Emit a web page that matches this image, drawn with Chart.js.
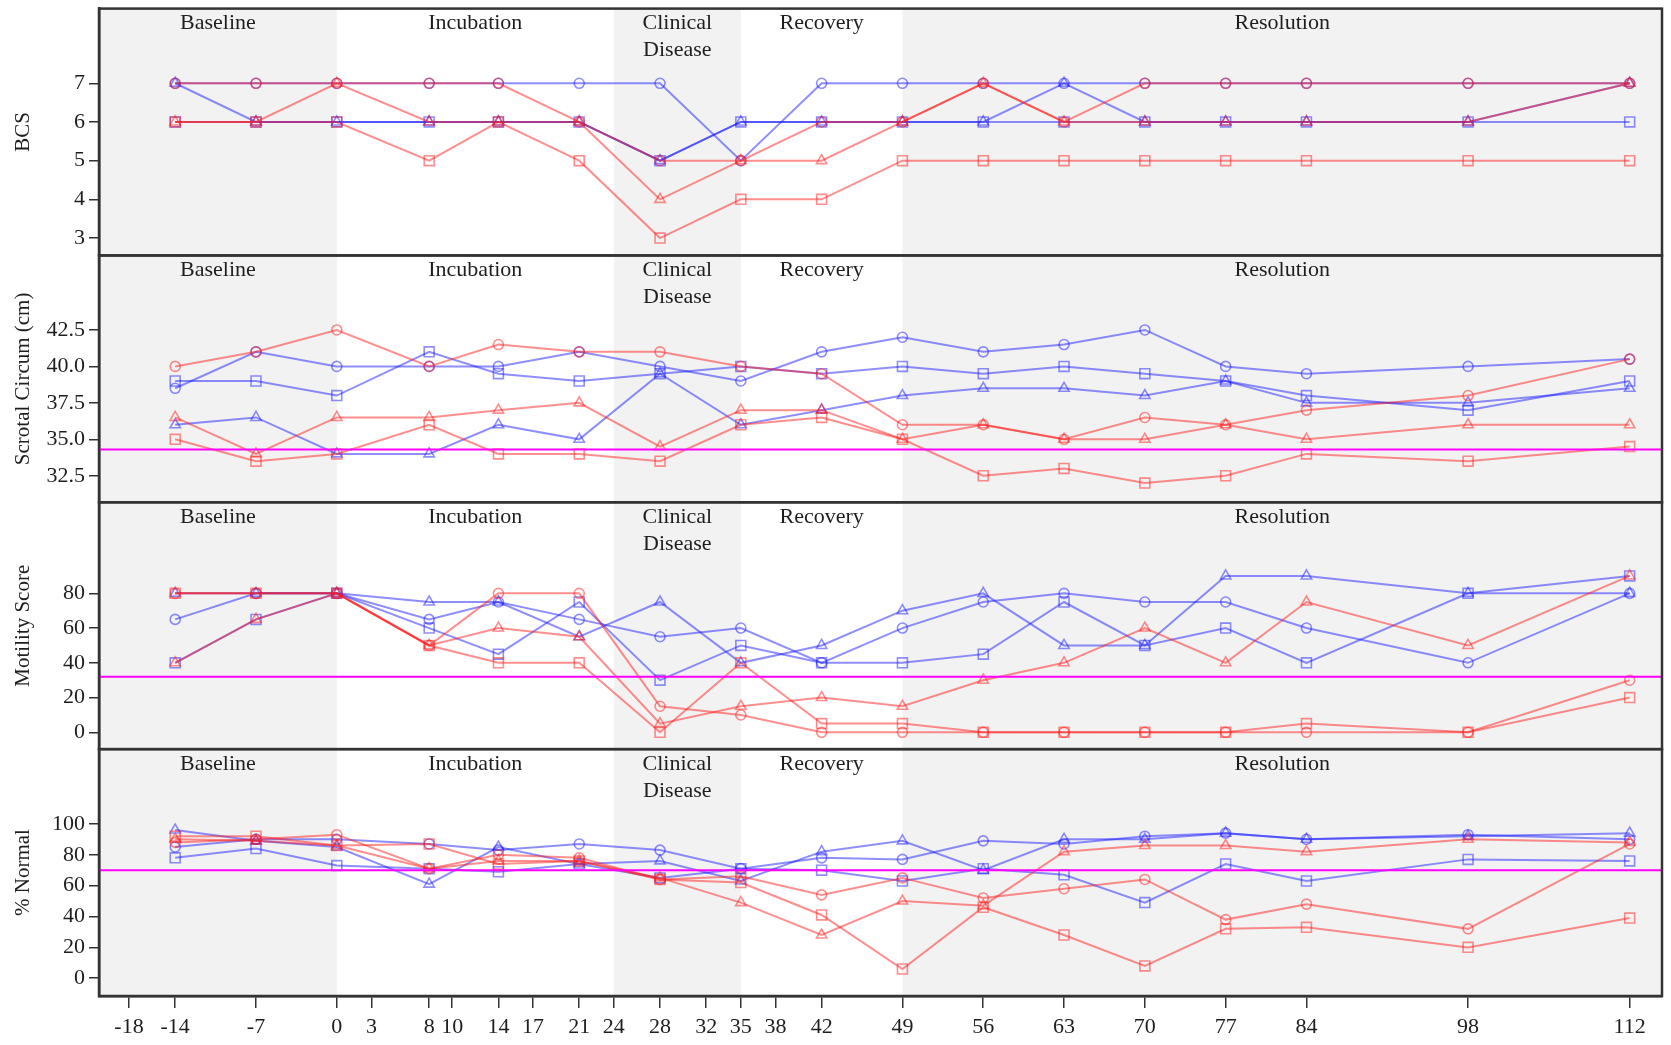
<!DOCTYPE html>
<html>
<head>
<meta charset="utf-8">
<script src="https://cdn.jsdelivr.net/npm/chart.js@4.4.1/dist/chart.umd.min.js"></script>
<style>
html, body { margin: 0; padding: 0; background: #fff; }
#wrap { width: 1671px; height: 1045px; position: relative; }
</style>
</head>
<body>
<div id="wrap"><canvas id="myChart"></canvas></div>
<script>
// sampling days (x)
const days = [-14, -7, 0, 8, 14, 21, 28, 35, 42, 49, 56, 63, 70, 77, 84, 98, 112];
const xTicks = [-18, -14, -7, 0, 3, 8, 10, 14, 17, 21, 24, 28, 32, 35, 38, 42, 49, 56, 63, 70, 77, 84, 98, 112];
const X_MIN = -20.6;
const X_MAX = 114.8;

// study phases
const phaseNames = ['Baseline', 'Incubation', 'Clinical\nDisease', 'Recovery', 'Resolution'];
const phaseStart = [X_MIN, 0, 24, 35, 49];
const phaseEnd = [0, 24, 35, 49, X_MAX];
const phaseShaded = [true, false, true, false, true];

// BCS
const bcsTicks = [3, 4, 5, 6, 7];
const bcsRedCircle = [7, 7, 7, 7, 7, 6, 5, 5, 6, 6, 7, 6, 7, 7, 7, 7, 7];
const bcsRedSquare = [6, 6, 6, 5, 6, 5, 3, 4, 4, 5, 5, 5, 5, 5, 5, 5, 5];
const bcsRedTriangle = [6, 6, 7, 6, 6, 6, 4, 5, 5, 6, 7, 6, 6, 6, 6, 6, 7];
const bcsBlueCircle = [7, 7, 7, 7, 7, 7, 7, 5, 7, 7, 7, 7, 7, 7, 7, 7, 7];
const bcsBlueSquare = [6, 6, 6, 6, 6, 6, 5, 6, 6, 6, 6, 6, 6, 6, 6, 6, 6];
const bcsBlueTriangle = [7, 6, 6, 6, 6, 6, 5, 6, 6, 6, 6, 7, 6, 6, 6, 6, 7];

// Scrotal circumference
const scTicks = [32.5, 35, 37.5, 40, 42.5];
const scThreshold = 34.3;
const scRedCircle = [40, 41, 42.5, 40, 41.5, 41, 41, 40, 39.5, 36, 36, 35, 36.5, 36, 37, 38, 40.5];
const scRedSquare = [35, 33.5, 34, 36, 34, 34, 33.5, 36, 36.5, 35, 32.5, 33, 32, 32.5, 34, 33.5, 34.5];
const scRedTriangle = [36.5, 34, 36.5, 36.5, 37, 37.5, 34.5, 37, 37, 35, 36, 35, 35, 36, 35, 36, 36];
const scBlueCircle = [38.5, 41, 40, 40, 40, 41, 40, 39, 41, 42, 41, 41.5, 42.5, 40, 39.5, 40, 40.5];
const scBlueSquare = [39, 39, 38, 41, 39.5, 39, 39.5, 40, 39.5, 40, 39.5, 40, 39.5, 39, 38, 37, 39];
const scBlueTriangle = [36, 36.5, 34, 34, 36, 35, 39.5, 36, 37, 38, 38.5, 38.5, 38, 39, 37.5, 37.5, 38.5];

// Motility score
const moTicks = [0, 20, 40, 60, 80];
const moThreshold = 32;
const moRedCircle = [80, 80, 80, 50, 80, 80, 15, 10, 0, 0, 0, 0, 0, 0, 0, 0, 30];
const moRedSquare = [80, 80, 80, 50, 40, 40, 0, 40, 5, 5, 0, 0, 0, 0, 5, 0, 20];
const moRedTriangle = [40, 65, 80, 50, 60, 55, 5, 15, 20, 15, 30, 40, 60, 40, 75, 50, 90];
const moBlueCircle = [65, 80, 80, 65, 75, 65, 55, 60, 40, 60, 75, 80, 75, 75, 60, 40, 80];
const moBlueSquare = [40, 65, 80, 60, 45, 75, 30, 50, 40, 40, 45, 75, 50, 60, 40, 80, 90];
const moBlueTriangle = [80, 80, 80, 75, 75, 55, 75, 40, 50, 70, 80, 50, 50, 90, 90, 80, 80];

// % Normal
const pnTicks = [0, 20, 40, 60, 80, 100];
const pnThreshold = 70;
const pnRedCircle = [88, 90, 93, 71, 80, 78, 64, 66, 54, 65, 52, 58, 64, 38, 48, 32, 87];
const pnRedSquare = [92, 92, 86, 87, 74, 76, 64, 62, 41, 6, 46, 28, 8, 32, 33, 20, 39];
const pnRedTriangle = [90, 89, 86, 71, 76, 76, 65, 49, 28, 50, 47, 82, 86, 86, 82, 90, 88];
const pnBlueCircle = [85, 90, 90, 87, 83, 87, 83, 71, 78, 77, 89, 87, 92, 94, 90, 93, 90];
const pnBlueSquare = [78, 84, 73, 71, 69, 74, 65, 71, 70, 63, 71, 67, 49, 74, 63, 77, 76];
const pnBlueTriangle = [96, 89, 85, 61, 85, 74, 76, 63, 82, 89, 70, 90, 90, 94, 90, 92, 94];

const RED = 'rgba(255, 30, 30, 0.5)';
const BLUE = 'rgba(30, 30, 255, 0.5)';
const SERIF = '"Liberation Serif", "DejaVu Serif", serif';
const TEXT = '#1e1e1e';
const AXIS = '#333';

function series(values, color, shape, axis) {
    let r = shape === 'circle' ? 5 : (shape === 'rect' ? 7 : 6);
    return {
        data: values.map((v, i) => ({ x: days[i], y: v })),
        yAxisID: axis,
        borderColor: color,
        backgroundColor: 'transparent',
        borderWidth: 2,
        pointStyle: shape,
        pointRadius: r,
        pointBorderColor: color,
        pointBackgroundColor: 'transparent',
        pointBorderWidth: 1.6,
        tension: 0
    };
}

function threshold(value, axis) {
    return {
        data: [{ x: X_MIN, y: value }, { x: X_MAX, y: value }],
        yAxisID: axis,
        borderColor: '#ff00ff',
        borderWidth: 2,
        pointRadius: 0,
        tension: 0
    };
}

function panelSet(rc, rs, rt, bc, bs, bt, axis) {
    return [
        series(rc, RED, 'circle', axis),
        series(rs, RED, 'rect', axis),
        series(rt, RED, 'triangle', axis),
        series(bc, BLUE, 'circle', axis),
        series(bs, BLUE, 'rect', axis),
        series(bt, BLUE, 'triangle', axis)
    ];
}

function panelScale(title, min, max, ticks, fmt) {
    return {
        type: 'linear',
        position: 'left',
        stack: 'panels',
        stackWeight: 1,
        min: min,
        max: max,
        afterBuildTicks: s => { s.ticks = ticks.map(v => ({ value: v })); },
        afterFit: s => { s.width = 99; s.paddingTop = 0; s.paddingBottom = 0; },
        ticks: { autoSkip: false, color: TEXT, font: { family: SERIF, size: 22 }, padding: 4, callback: fmt },
        grid: { drawOnChartArea: false, drawTicks: true, tickLength: 10, color: AXIS, lineWidth: 1.5 },
        border: { display: true, color: AXIS, width: 2.5 },
        title: { display: true, text: title, color: TEXT, font: { family: SERIF, size: 21 }, padding: { top: 11, bottom: 0 } }
    };
}

const panelIds = ['yBcs', 'ySc', 'yMo', 'yPn'];

const panelPlugin = {
    id: 'panels',
    beforeDraw(chart) {
        const { ctx, chartArea, scales } = chart;
        const xs = scales.x;
        ctx.save();
        ctx.fillStyle = '#f2f2f2';
        for (let i = 0; i < phaseNames.length; i++) {
            if (!phaseShaded[i]) continue;
            const x0 = xs.getPixelForValue(phaseStart[i]);
            const x1 = xs.getPixelForValue(phaseEnd[i]);
            ctx.fillRect(x0, chartArea.top, x1 - x0, chartArea.bottom - chartArea.top);
        }
        ctx.fillStyle = TEXT;
        ctx.font = '22px ' + SERIF;
        ctx.textAlign = 'center';
        ctx.textBaseline = 'middle';
        panelIds.forEach(id => {
            const s = scales[id];
            for (let i = 0; i < phaseNames.length; i++) {
                const cx = xs.getPixelForValue((phaseStart[i] + phaseEnd[i]) / 2);
                phaseNames[i].split('\n').forEach((t, k) => {
                    ctx.fillText(t, cx, s.top + 15 + k * 27);
                });
            }
        });
        ctx.restore();
    },
    afterDraw(chart) {
        const { ctx, chartArea, scales } = chart;
        ctx.save();
        ctx.strokeStyle = AXIS;
        ctx.lineWidth = 2.5;
        panelIds.forEach(id => {
            const s = scales[id];
            ctx.strokeRect(chartArea.left, s.top, chartArea.right - chartArea.left, s.bottom - s.top);
        });
        ctx.restore();
    }
};

const datasets = [].concat(
    panelSet(bcsRedCircle, bcsRedSquare, bcsRedTriangle, bcsBlueCircle, bcsBlueSquare, bcsBlueTriangle, 'yBcs'),
    [threshold(scThreshold, 'ySc')],
    panelSet(scRedCircle, scRedSquare, scRedTriangle, scBlueCircle, scBlueSquare, scBlueTriangle, 'ySc'),
    [threshold(moThreshold, 'yMo')],
    panelSet(moRedCircle, moRedSquare, moRedTriangle, moBlueCircle, moBlueSquare, moBlueTriangle, 'yMo'),
    [threshold(pnThreshold, 'yPn')],
    panelSet(pnRedCircle, pnRedSquare, pnRedTriangle, pnBlueCircle, pnBlueSquare, pnBlueTriangle, 'yPn')
);

let ctx = document.getElementById('myChart').getContext('2d');

new Chart(ctx, {
    type: 'line',
    data: { datasets: datasets },
    plugins: [panelPlugin],
    options: {
        responsive: true,
        maintainAspectRatio: false,
        animation: false,
        layout: { padding: { top: 5, right: 9, left: 0, bottom: 0 } },
        plugins: { legend: { display: false }, tooltip: { enabled: false } },
        scales: {
            x: {
                type: 'linear',
                min: X_MIN,
                max: X_MAX,
                afterBuildTicks: s => { s.ticks = xTicks.map(v => ({ value: v })); },
                afterFit: s => { s.height = 49; s.paddingLeft = 0; s.paddingRight = 0; },
                ticks: { autoSkip: false, maxRotation: 0, color: TEXT, font: { family: SERIF, size: 22 }, padding: 6 },
                grid: { drawOnChartArea: false, drawTicks: true, tickLength: 12, color: AXIS, lineWidth: 1.5 },
                border: { display: true, color: AXIS, width: 2.5 }
            },
            // later-defined stacked axes are placed on top
            yPn: panelScale('% Normal', -11.5, 148.4, pnTicks, v => String(v)),
            yMo: panelScale('Motility Score', -9.7, 132.4, moTicks, v => String(v)),
            ySc: panelScale('Scrotal Circum (cm)', 30.68, 47.61, scTicks, v => v.toFixed(1)),
            yBcs: panelScale('BCS', 2.55, 8.93, bcsTicks, v => String(v))
        }
    }
});
</script>
</body>
</html>
